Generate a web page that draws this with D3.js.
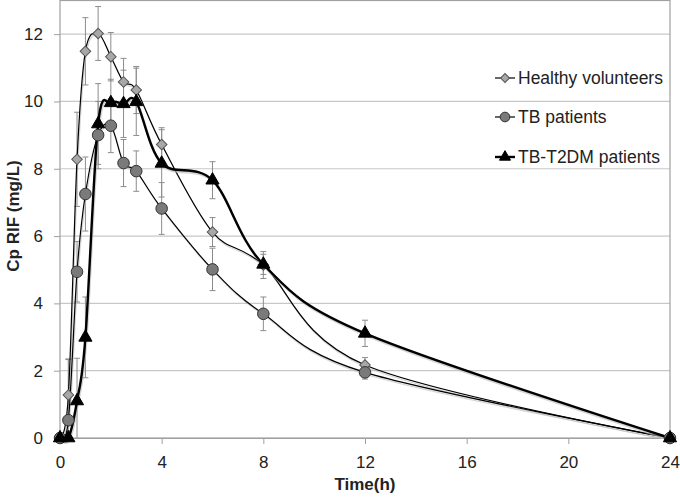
<!DOCTYPE html>
<html>
<head>
<meta charset="utf-8">
<script src="https://cdn.jsdelivr.net/npm/d3@7"></script>
<style>
  body { margin: 0; background: #fff; }
  svg { display: block; font-family: "Liberation Sans", sans-serif; }
</style>
</head>
<body>
<div id="chart"></div>
<script>
const times = [0, 0.33, 0.67, 1, 1.5, 2, 2.5, 3, 4, 6, 8, 12, 24];
const seriesNames = ['Healthy volunteers', 'TB patients', 'TB-T2DM patients'];
const healthy = [0, 1.28, 8.28, 11.49, 12.02, 11.33, 10.58, 10.34, 8.72, 6.12, 5.14, 2.17, 0];
const healthyErr = [0, 1.07, 1.4, 1.0, 0.8, 0.72, 0.7, 0.7, 0.5, 0.43, 0.4, 0.22, 0];
const tb = [0, 0.53, 4.94, 7.25, 9.0, 9.28, 8.17, 7.93, 6.82, 5.01, 3.69, 1.95, 0];
const tbErr = [0, 1.8, 0.9, 1.1, 1.0, 0.8, 0.7, 0.6, 0.77, 0.63, 0.5, 0.2, 0];
const t2dm = [0, 0, 1.1, 2.99, 9.33, 9.96, 9.93, 9.99, 8.16, 7.66, 5.16, 3.11, 0];
const t2dmErr = [0, 0, 1.27, 1.2, 1.2, 0.7, 1.0, 1.0, 1.0, 0.55, 0.3, 0.39, 0];
const xTicks = [0, 4, 8, 12, 16, 20, 24];
const yTicks = [0, 2, 4, 6, 8, 10, 12];

const width = 680, height = 501;
const font = '"Liberation Sans", sans-serif';
const svg = d3.select('#chart').append('svg')
    .attr('width', width)
    .attr('height', height);

const x = d3.scaleLinear().domain([0, 24]).range([60, 670]);
const y = d3.scaleLinear().domain([0, 13]).range([438, 0.5]);

// gridlines
svg.append('g')
    .selectAll('line')
    .data(yTicks.slice(1))
    .join('line')
    .attr('x1', x(0)).attr('x2', x(24))
    .attr('y1', d => y(d)).attr('y2', d => y(d))
    .attr('stroke', '#c8c8c8')
    .attr('stroke-width', 1.2);

// frame
svg.append('rect')
    .attr('x', x(0)).attr('y', y(13))
    .attr('width', x(24) - x(0)).attr('height', y(0) - y(13))
    .attr('fill', 'none')
    .attr('stroke', '#a0a0a0')
    .attr('stroke-width', 1.2);

// axes
const xAxis = svg.append('g')
    .attr('transform', `translate(0,${y(0)})`)
    .call(d3.axisBottom(x).tickValues(xTicks).tickSize(6).tickPadding(12));
xAxis.select('.domain').attr('stroke', '#a0a0a0');
xAxis.selectAll('.tick line').attr('stroke', '#a0a0a0');
xAxis.selectAll('text').attr('font-size', 17).attr('fill', '#222').attr('font-family', font);

const yAxis = svg.append('g')
    .attr('transform', `translate(${x(0)},0)`)
    .call(d3.axisLeft(y).tickValues(yTicks).tickSize(6).tickPadding(11));
yAxis.select('.domain').remove();
yAxis.selectAll('.tick line').attr('stroke', '#a0a0a0');
yAxis.selectAll('text').attr('font-size', 17).attr('fill', '#222').attr('font-family', font);

svg.append('text')
    .attr('x', x(12)).attr('y', 490)
    .attr('text-anchor', 'middle')
    .attr('font-size', 17).attr('font-weight', 'bold').attr('fill', '#222')
    .text('Time(h)');

svg.append('text')
    .attr('transform', 'translate(19,216) rotate(-90)')
    .attr('text-anchor', 'middle')
    .attr('font-size', 17).attr('font-weight', 'bold').attr('fill', '#222')
    .text('Cp RIF (mg/L)');

const series = [
    { name: seriesNames[0], vals: healthy, err: healthyErr, shape: d3.symbolSquare, rot: 45, size: 56, fill: '#a8a8a8', stroke: '#555', lw: 1.2 },
    { name: seriesNames[1], vals: tb, err: tbErr, shape: d3.symbolCircle, rot: 0, size: 105, fill: '#7a7a7a', stroke: '#333', lw: 1.2 },
    { name: seriesNames[2], vals: t2dm, err: t2dmErr, shape: d3.symbolTriangle, rot: 0, size: 75, fill: '#000', stroke: '#000', lw: 2.4 }
];

// error bars
series.forEach(s => {
    const g = svg.append('g').attr('stroke', '#8c8c8c').attr('stroke-width', 1);
    const pts = times.map((t, i) => ({ t, v: s.vals[i], e: s.err[i] })).filter(d => d.e > 0);
    g.selectAll('line.v').data(pts).join('line')
        .attr('x1', d => x(d.t)).attr('x2', d => x(d.t))
        .attr('y1', d => y(d.v + d.e)).attr('y2', d => y(Math.max(0, d.v - d.e)));
    g.selectAll('line.top').data(pts).join('line')
        .attr('x1', d => x(d.t) - 3).attr('x2', d => x(d.t) + 3)
        .attr('y1', d => y(d.v + d.e)).attr('y2', d => y(d.v + d.e));
    g.selectAll('line.bot').data(pts.filter(d => d.v - d.e > 0)).join('line')
        .attr('x1', d => x(d.t) - 3).attr('x2', d => x(d.t) + 3)
        .attr('y1', d => y(d.v - d.e)).attr('y2', d => y(d.v - d.e));
});

const line = d3.line()
    .x(d => x(d[0]))
    .y(d => y(d[1]))
    .curve(d3.curveCardinal.tension(0));

// lines with faint shadow
series.forEach(s => {
    const data = times.map((t, i) => [t, s.vals[i]]);
    svg.append('path')
        .datum(data)
        .attr('d', line)
        .attr('transform', 'translate(1,2)')
        .attr('fill', 'none')
        .attr('stroke', '#bbb')
        .attr('stroke-opacity', 0.6)
        .attr('stroke-width', s.lw);
    svg.append('path')
        .datum(data)
        .attr('d', line)
        .attr('fill', 'none')
        .attr('stroke', '#000')
        .attr('stroke-width', s.lw);
});

// markers
series.forEach(s => {
    svg.append('g')
        .selectAll('path')
        .data(times.map((t, i) => [t, s.vals[i]]))
        .join('path')
        .attr('d', d3.symbol().type(s.shape).size(s.size))
        .attr('transform', d => `translate(${x(d[0])},${y(d[1])}) rotate(${s.rot})`)
        .attr('fill', s.fill)
        .attr('stroke', s.stroke)
        .attr('stroke-width', 1);
});

// legend
const legend = svg.append('g').attr('transform', 'translate(495,0)');
const legendY = [78, 117, 157];
series.forEach((s, i) => {
    const g = legend.append('g').attr('transform', `translate(0,${legendY[i]})`);
    g.append('line').attr('x1', 0).attr('x2', 20).attr('y1', 0).attr('y2', 0)
        .attr('stroke', '#000').attr('stroke-width', s.lw);
    g.append('path')
        .attr('d', d3.symbol().type(s.shape).size(s.size * 0.7))
        .attr('transform', `translate(10,0) rotate(${s.rot})`)
        .attr('fill', s.fill).attr('stroke', s.stroke).attr('stroke-width', 1);
    g.append('text')
        .attr('x', 23).attr('y', 0).attr('dy', '0.35em')
        .attr('font-size', 17.5).attr('fill', '#222')
        .text(s.name);
});
</script>
</body>
</html>
